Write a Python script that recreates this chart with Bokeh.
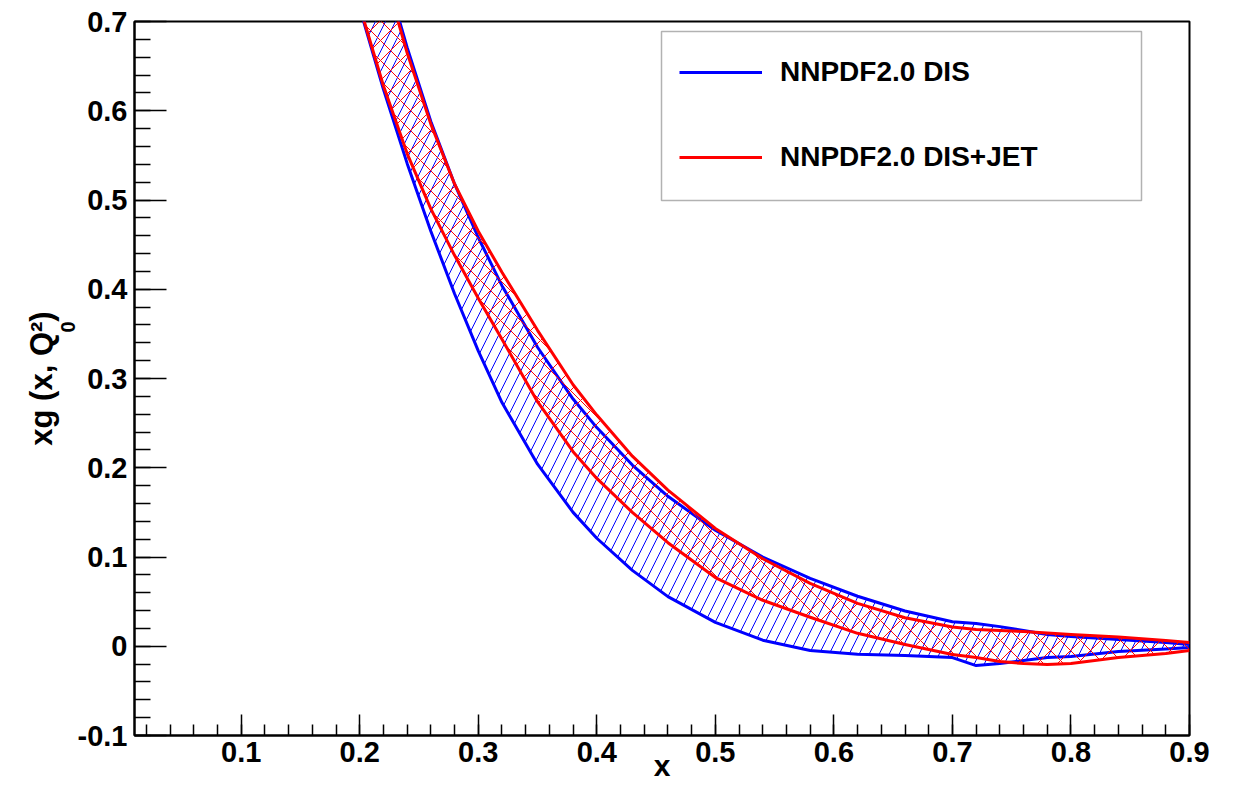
from bokeh.plotting import figure
from bokeh.models import (Range1d, FixedTicker, BoxAnnotation, Legend,
                          LegendItem, Title)
from bokeh.embed import file_html
from bokeh.resources import INLINE

# ---------------- data ----------------
x_vals = [0.20, 0.22, 0.24, 0.26, 0.28, 0.30, 0.32, 0.35, 0.38, 0.40, 0.43, 0.46,
          0.50, 0.54, 0.58, 0.62, 0.66, 0.70, 0.72, 0.74, 0.76, 0.78, 0.80, 0.84,
          0.88, 0.90]

dis_low = [0.715, 0.624, 0.541, 0.465, 0.395, 0.331, 0.273, 0.204, 0.150, 0.121,
           0.085, 0.0556, 0.0268, 0.0068, -0.0048, -0.009, -0.0104, -0.0127, -0.0217,
           -0.0194, -0.016, -0.0127, -0.0115, -0.006, -0.003, -0.0015]
dis_high = [0.87, 0.763, 0.671, 0.588, 0.518, 0.458, 0.404, 0.335, 0.277, 0.245,
            0.203, 0.168, 0.130, 0.100, 0.076, 0.056, 0.0395, 0.0275, 0.0256,
            0.022, 0.0176, 0.0131, 0.0109, 0.0075, 0.0041, 0.0019]

jet_low = [0.717, 0.628, 0.552, 0.490, 0.438, 0.390, 0.344, 0.274, 0.218, 0.188,
           0.150, 0.116, 0.077, 0.0515, 0.0325, 0.0145, 0.002, -0.0093, -0.0127,
           -0.0172, -0.0194, -0.0205, -0.0194, -0.0127, -0.0082, -0.0048]
jet_high = [0.87, 0.757, 0.665, 0.585, 0.518, 0.465, 0.419, 0.354, 0.293, 0.259,
            0.213, 0.175, 0.132, 0.098, 0.0705, 0.048, 0.032, 0.0215, 0.0187,
            0.0176, 0.0165, 0.0148, 0.0131, 0.0103, 0.0064, 0.0041]

series_names = ["NNPDF2.0 DIS", "NNPDF2.0 DIS+JET"]

x_ticks = [0.1, 0.2, 0.3, 0.4, 0.5, 0.6, 0.7, 0.8, 0.9]
x_tick_labels = ["0.1", "0.2", "0.3", "0.4", "0.5", "0.6", "0.7", "0.8", "0.9"]
y_ticks = [-0.1, 0.0, 0.1, 0.2, 0.3, 0.4, 0.5, 0.6, 0.7]
y_tick_labels = ["-0.1", "0", "0.1", "0.2", "0.3", "0.4", "0.5", "0.6", "0.7"]

x_title = "x"
y_title_main = "xg (x, Q\u00b2)"
y_title_sub = "0"

# ---------------- styling ----------------
FONT = "Liberation Sans"
BLUE = "#0000ff"
RED = "#ff0000"

p = figure(width=1229, height=794,
           x_range=Range1d(0.01, 0.9), y_range=Range1d(-0.1, 0.7),
           output_backend="svg", toolbar_location=None,
           min_border_left=134, min_border_right=40,
           min_border_top=21, min_border_bottom=59)
p.grid.visible = False
p.outline_line_color = "black"
p.outline_line_width = 2
p.background_fill_color = "white"
p.border_fill_color = "white"

x_minor = [round(0.02 * i, 2) for i in range(1, 46)]
y_minor = [round(-0.1 + 0.02 * i, 2) for i in range(0, 41)]

xa = p.xaxis[0]
xa.ticker = FixedTicker(ticks=x_ticks, minor_ticks=x_minor)
xa.major_label_overrides = {t: l for t, l in zip(x_ticks, x_tick_labels)}
xa.major_tick_in = 21
xa.major_tick_out = 0
xa.minor_tick_in = 11
xa.minor_tick_out = 0
xa.major_label_standoff = 6
xa.axis_label = x_title
xa.axis_label_text_font = FONT
xa.axis_label_text_font_style = "bold"
xa.axis_label_text_font_size = "30px"
xa.axis_label_text_color = "black"
xa.axis_label_standoff = -16

ya = p.yaxis[0]
ya.ticker = FixedTicker(ticks=y_ticks, minor_ticks=y_minor)
ya.major_label_overrides = {t: l for t, l in zip(y_ticks, y_tick_labels)}
ya.major_tick_in = 32
ya.major_tick_out = 0
ya.minor_tick_in = 16
ya.minor_tick_out = 0
ya.major_label_standoff = 7

for ax in (xa, ya):
    ax.axis_line_width = 2
    ax.axis_line_color = "black"
    ax.major_tick_line_width = 1.5
    ax.minor_tick_line_width = 1.5
    ax.major_tick_line_color = "black"
    ax.minor_tick_line_color = "black"
    ax.major_label_text_font = FONT
    ax.major_label_text_font_style = "bold"
    ax.major_label_text_font_size = "29px"
    ax.major_label_text_color = "black"

# ---------------- y title (rotated, in the left side panel) ----------------
p.add_layout(Title(text=y_title_sub, align="left", offset=403, standoff=0,
                   text_font=FONT, text_font_style="bold", text_font_size="20px",
                   text_color="black"), "left")
p.add_layout(Title(text=y_title_main, align="center", offset=0, standoff=0,
                   text_font=FONT, text_font_style="bold", text_font_size="31px",
                   text_color="black"), "left")

# ---------------- bands ----------------
p.varea(x=x_vals, y1=dis_low, y2=dis_high, fill_color=None,
        hatch_pattern="/", hatch_color=BLUE, hatch_scale=20, hatch_weight=1)
l_dis_hi = p.line(x_vals, dis_high, line_color=BLUE, line_width=3, line_join="round")
p.line(x_vals, dis_low, line_color=BLUE, line_width=3, line_join="round")

p.varea(x=x_vals, y1=jet_low, y2=jet_high, fill_color=None,
        hatch_pattern="x", hatch_color=RED, hatch_scale=20, hatch_weight=1)
l_jet_hi = p.line(x_vals, jet_high, line_color=RED, line_width=3, line_join="round")
p.line(x_vals, jet_low, line_color=RED, line_width=3, line_join="round")

# ---------------- legend ----------------
legend = Legend(items=[LegendItem(label=series_names[0], renderers=[l_dis_hi]),
                       LegendItem(label=series_names[1], renderers=[l_jet_hi])],
                location=(524, 537), orientation="vertical",
                label_text_font=FONT, label_text_font_style="bold",
                label_text_font_size="28px", label_text_color="black",
                glyph_width=83, glyph_height=40, label_height=40,
                label_standoff=18, spacing=45, padding=21, margin=0,
                border_line_alpha=0, background_fill_alpha=0)
p.add_layout(legend, "center")

p.add_layout(BoxAnnotation(left=527, right=1007, bottom=535, top=704,
                           left_units="screen", right_units="screen",
                           bottom_units="screen", top_units="screen",
                           fill_alpha=0, line_color="black", line_width=1.5))

open("out.html", "w").write(file_html(p, INLINE))
